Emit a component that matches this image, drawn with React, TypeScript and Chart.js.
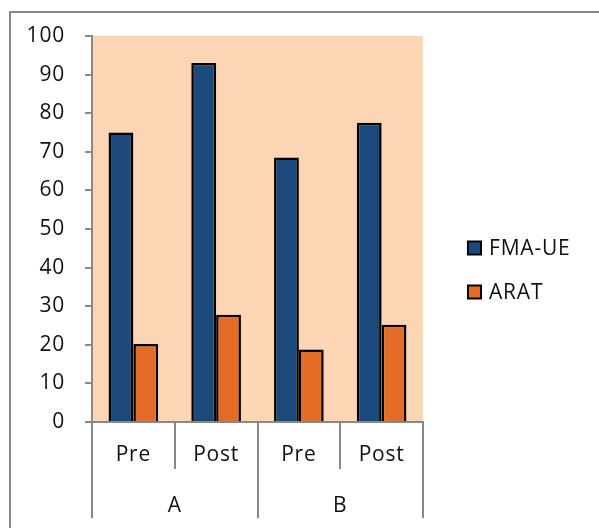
import React, { useEffect, useRef } from "react";
import { Chart, registerables } from "chart.js";

Chart.register(...registerables);

const categories = ["Pre", "Post", "Pre", "Post"];
const groups = ["A", "B"];
const seriesNames = ["FMA-UE", "ARAT"];
const fmaValues = [75, 93, 68.5, 77.5];
const aratValues = [20.2, 27.8, 18.8, 25.2];
const yTicks = [0, 10, 20, 30, 40, 50, 60, 70, 80, 90, 100];

const BLUE = "#1A497C";
const ORANGE = "#E46C27";
const PLOT_BG = "#FCD5B5";
const AXIS = "#888888";
const TEXT = "#111111";
const FONT = "'Open Sans', sans-serif";
const FS = 21;
const LS = "0.8px";

export default function App() {
  const ref = useRef<HTMLCanvasElement | null>(null);

  useEffect(() => {
    if (!ref.current) return;
    const plugin = {
      id: "excelLook",
      beforeDraw(chart: any) {
        const ctx = chart.ctx;
        (ctx as any).letterSpacing = LS;
        const a = chart.chartArea;
        ctx.save();
        ctx.fillStyle = PLOT_BG;
        ctx.fillRect(a.left, a.top, a.right - a.left, a.bottom - a.top);
        ctx.restore();
      },
      afterDraw(chart: any) {
        const ctx = chart.ctx;
        const x = chart.scales.x;
        const a = chart.chartArea;
        const n = categories.length;
        const half = (x.getPixelForValue(1) - x.getPixelForValue(0)) / 2;
        ctx.save();
        ctx.strokeStyle = AXIS;
        ctx.lineWidth = 2;
        for (let i = 0; i <= n; i++) {
          const px = i < n ? x.getPixelForValue(i) - half : x.getPixelForValue(n - 1) + half;
          const isGroup = i % 2 === 0;
          ctx.beginPath();
          ctx.moveTo(Math.round(px), a.bottom);
          ctx.lineTo(Math.round(px), a.bottom + (isGroup ? 96 : 47));
          ctx.stroke();
        }
        ctx.fillStyle = TEXT;
        ctx.font = `${FS}px ${FONT}`;
        (ctx as any).letterSpacing = LS;
        ctx.textAlign = "center";
        ctx.textBaseline = "middle";
        groups.forEach((g, gi) => {
          const cx = (x.getPixelForValue(gi * 2) + x.getPixelForValue(gi * 2 + 1)) / 2;
          ctx.fillText(g, cx, a.bottom + 84);
        });
        // legend
        const ds = chart.data.datasets;
        const lx = a.right + 45;
        const midY = 270;
        ds.forEach((d: any, i: number) => {
          const cy = midY + (i - (ds.length - 1) / 2) * 44;
          ctx.fillStyle = d.backgroundColor;
          ctx.fillRect(lx, cy - 6.5, 13, 13);
          ctx.strokeStyle = "#000";
          ctx.lineWidth = 2;
          ctx.strokeRect(lx, cy - 6.5, 13, 13);
          ctx.fillStyle = TEXT;
          ctx.textAlign = "left";
          ctx.fillText(d.label, lx + 21, cy + 1);
        });
        ctx.restore();
      },
    };

    const chart = new Chart(ref.current, {
      type: "bar",
      data: {
        labels: categories,
        datasets: [
          {
            label: seriesNames[0],
            data: fmaValues,
            backgroundColor: BLUE,
            borderColor: "#000",
            borderWidth: 2.5,
          },
          {
            label: seriesNames[1],
            data: aratValues,
            backgroundColor: ORANGE,
            borderColor: "#000",
            borderWidth: 2.5,
          },
        ],
      },
      options: {
        animation: false,
        responsive: false,
        devicePixelRatio: 1,
        layout: { padding: { left: 0, top: 36, right: 176, bottom: 0 } },
        datasets: { bar: { categoryPercentage: 0.6, barPercentage: 1 } },
        plugins: { legend: { display: false }, tooltip: { enabled: false } },
        scales: {
          x: {
            grid: { display: false, drawTicks: false },
            border: { display: true, color: AXIS, width: 2 },
            ticks: { padding: 20, color: TEXT, font: { family: FONT, size: FS } },
            afterFit(scale: any) {
              scale.height = 106;
            },
          },
          y: {
            min: 0,
            max: 100,
            afterBuildTicks(scale: any) {
              scale.ticks = yTicks.map((v) => ({ value: v }));
            },
            grid: { drawOnChartArea: false, drawTicks: true, tickLength: 7, color: AXIS, lineWidth: 2 },
            border: { display: true, color: AXIS, width: 2 },
            ticks: { padding: 20, color: TEXT, font: { family: FONT, size: FS } },
            afterFit(scale: any) {
              scale.width = 92;
            },
          },
        },
      },
      plugins: [plugin],
    });
    return () => chart.destroy();
  }, []);

  return (
    <div style={{ position: "absolute", left: 0, top: 0, width: 599, height: 528, overflow: "hidden", background: "#fff" }}>
      <div
        style={{
          position: "absolute",
          left: 9,
          top: 11,
          width: 700,
          height: 700,
          borderTop: "2px solid #8a8a8a",
          borderLeft: "2px solid #8a8a8a",
        }}
      />
      <canvas ref={ref} width={599} height={528} style={{ position: "absolute", left: 0, top: 0, width: 599, height: 528 }} />
    </div>
  );
}
